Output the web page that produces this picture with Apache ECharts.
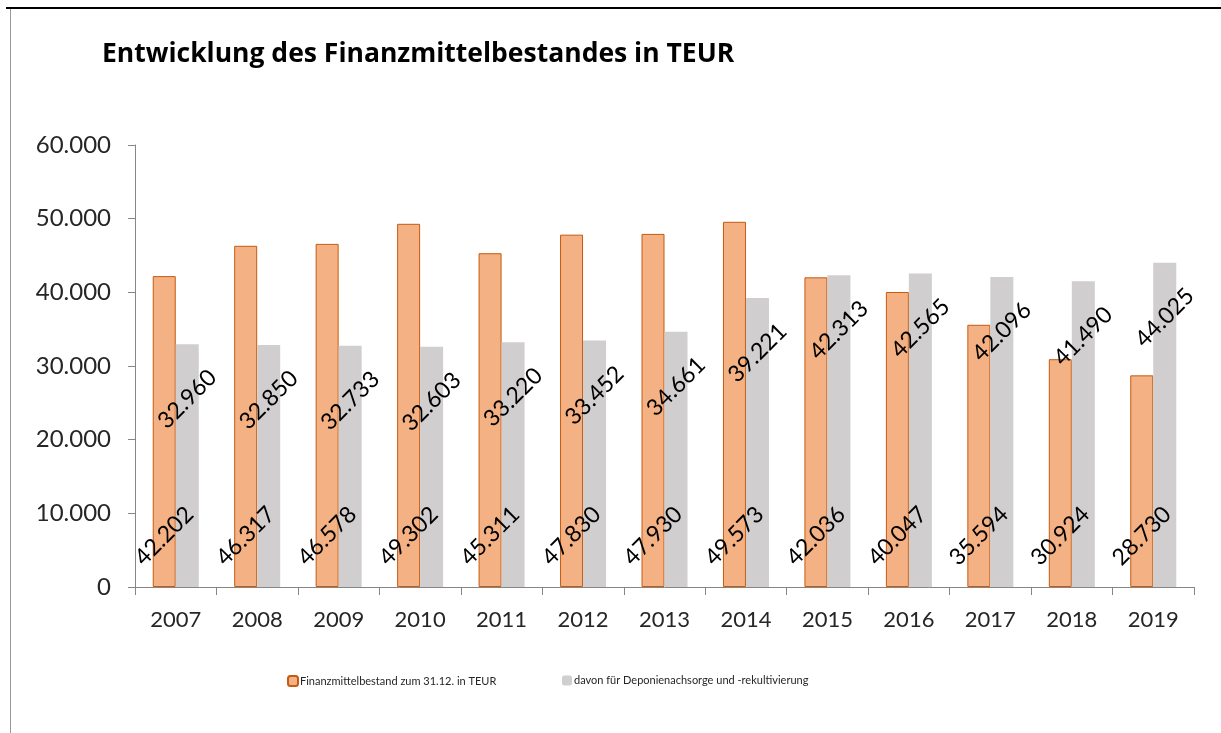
<!DOCTYPE html>
<html>
<head>
<meta charset="utf-8">
<script src="https://cdn.jsdelivr.net/npm/echarts@6/dist/echarts.min.js"></script>
<style>
  html, body { margin: 0; padding: 0; background: #fff; }
  #chart { width: 1221px; height: 733px; }
</style>
</head>
<body>
<div id="chart"></div>
<script>
const years = ['2007', '2008', '2009', '2010', '2011', '2012', '2013', '2014', '2015', '2016', '2017', '2018', '2019'];
const bestand = [42202, 46317, 46578, 49302, 45311, 47830, 47930, 49573, 42036, 40047, 35594, 30924, 28730];
const deponie = [32960, 32850, 32733, 32603, 33220, 33452, 34661, 39221, 42313, 42565, 42096, 41490, 44025];
const seriesNames = ['Finanzmittelbestand zum 31.12. in TEUR', 'davon für Deponienachsorge und -rekultivierung'];

const font = 'Lato, "Open Sans", sans-serif';

// Tausenderpunkt wie im Original
function fmt(v) {
    return String(v).replace(/\B(?=(\d{3})+(?!\d))/g, '.');
}

const chart = echarts.init(document.getElementById('chart'));

const options = {
    backgroundColor: '#fff',
    animation: false,
    textStyle: { fontFamily: font },
    title: {
        text: 'Entwicklung des Finanzmittelbestandes in TEUR',
        left: 97,
        top: 36,
        textStyle: { fontFamily: '"Open Sans", sans-serif', fontSize: 26.5, fontWeight: 'bold', color: '#000' }
    },
    legend: [
        {
            data: [seriesNames[0]],
            left: 282, top: 670,
            itemWidth: 10, itemHeight: 10,
            textStyle: { fontSize: 11, color: '#262626', fontFamily: font, padding: [0, 0, 0, -3] }
        },
        {
            data: [seriesNames[1]],
            left: 557, top: 670,
            itemWidth: 10, itemHeight: 10,
            textStyle: { fontSize: 11, color: '#262626', fontFamily: font, padding: [0, 0, 0, -3] }
        }
    ],
    grid: { left: 135, right: 27, top: 145, bottom: 146 },
    xAxis: {
        type: 'category',
        data: years,
        axisLine: { lineStyle: { color: '#868686', width: 1 } },
        axisTick: { show: true, length: 8, lineStyle: { color: '#868686' } },
        axisLabel: { fontSize: 22, color: '#262626', margin: 22, fontFamily: font }
    },
    yAxis: {
        type: 'value',
        min: 0,
        max: 60000,
        interval: 10000,
        axisLine: { show: true, lineStyle: { color: '#868686', width: 1 } },
        axisTick: { show: true, inside: false, length: 7, lineStyle: { color: '#868686' } },
        splitLine: { show: false },
        axisLabel: { fontSize: 24, color: '#262626', margin: 24, fontFamily: font, formatter: fmt }
    },
    series: [
        {
            name: seriesNames[0],
            type: 'bar',
            data: bestand,
            barWidth: 23,
            barGap: '0%',
            itemStyle: { color: '#F4B183', borderColor: '#C55A11', borderWidth: 1 },
            label: {
                show: true,
                position: 'insideBottom',
                distance: 51,
                rotate: 45,
                align: 'center',
                verticalAlign: 'middle',
                fontSize: 23,
                color: '#000',
                fontFamily: font,
                formatter: p => fmt(p.value)
            }
        },
        {
            name: seriesNames[1],
            type: 'bar',
            data: deponie,
            barWidth: 23,
            barGap: '0%',
            itemStyle: { color: '#D0CECE' },
            label: {
                show: true,
                position: 'insideTop',
                distance: 55,
                rotate: 45,
                align: 'center',
                verticalAlign: 'middle',
                fontSize: 23,
                color: '#000',
                fontFamily: font,
                formatter: p => fmt(p.value)
            }
        }
    ],
    graphic: [
        { type: 'line', shape: { x1: 6, y1: 8, x2: 1221, y2: 8 }, style: { stroke: '#000', lineWidth: 2 } },
        { type: 'line', shape: { x1: 10.5, y1: 9, x2: 10.5, y2: 733 }, style: { stroke: '#9a9a9a', lineWidth: 1 } }
    ]
};

chart.setOption(options);
</script>
</body>
</html>
